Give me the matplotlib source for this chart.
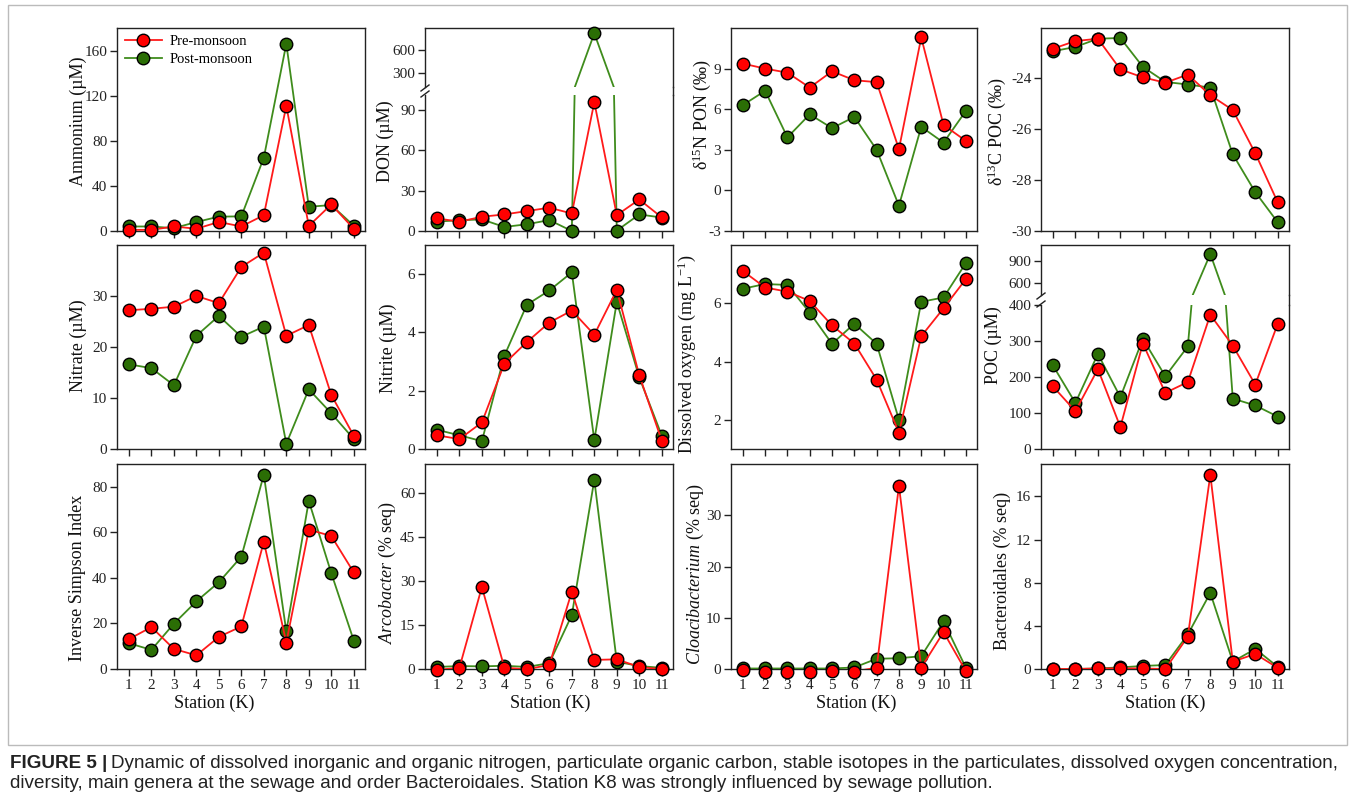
import matplotlib
matplotlib.use("Agg")
import matplotlib.pyplot as plt
from matplotlib.lines import Line2D
from matplotlib.patches import Rectangle

plt.rcParams['font.family'] = ['Liberation Serif', 'DejaVu Serif']
plt.rcParams['mathtext.fontset'] = 'custom'
plt.rcParams['mathtext.rm'] = 'Liberation Serif'
plt.rcParams['mathtext.it'] = 'Liberation Serif:italic'
plt.rcParams['axes.unicode_minus'] = False

stations = list(range(1, 12))
series_names = ["Pre-monsoon", "Post-monsoon"]

ammonium_pre = [1, 1, 4, 2, 8, 4, 14, 111, 4.5, 23.5, 2]
ammonium_post = [4, 4, 2.5, 8, 12.7, 13, 65, 166, 21.5, 23, 4.7]
don_pre = [9.4, 6.9, 10.6, 12.3, 14.8, 17.3, 13, 95.7, 11.8, 23.4, 10.1]
don_post = [7, 8, 8.6, 3, 5, 8.1, 0, 820, 0.3, 12.3, 10]
d15n_pre = [9.37, 9.0, 8.7, 7.6, 8.8, 8.14, 8.0, 3.05, 11.3, 4.83, 3.66]
d15n_post = [6.3, 7.36, 3.92, 5.62, 4.6, 5.43, 3.0, -1.13, 4.7, 3.53, 5.87]
d13c_pre = [-22.87, -22.57, -22.48, -23.68, -23.99, -24.2, -23.88, -24.69, -25.27, -26.96, -28.88]
d13c_post = [-22.97, -22.8, -22.48, -22.45, -23.58, -24.17, -24.27, -24.39, -27.0, -28.48, -29.66]
nitrate_pre = [27.2, 27.5, 27.9, 30, 28.6, 35.7, 38.5, 22.2, 24.3, 10.6, 2.6]
nitrate_post = [16.6, 15.85, 12.5, 22.2, 26.1, 22, 24, 1.04, 11.7, 7.0, 1.96]
nitrite_pre = [0.47, 0.34, 0.91, 2.93, 3.67, 4.34, 4.75, 3.92, 5.46, 2.53, 0.29]
nitrite_post = [0.66, 0.47, 0.27, 3.2, 4.95, 5.44, 6.06, 0.3, 5.05, 2.46, 0.46]
do_pre = [7.11, 6.54, 6.4, 6.08, 5.24, 4.62, 3.38, 1.56, 4.87, 5.83, 6.83]
do_post = [6.5, 6.66, 6.63, 5.68, 4.61, 5.3, 4.61, 2.0, 6.05, 6.2, 7.38]
poc_pre = [174, 105, 222, 61, 293, 156, 186, 373, 287, 179, 348]
poc_post = [232, 128, 264, 144, 306, 202, 285, 990, 140, 121, 90]
invsimpson_pre = [13.1, 18.4, 8.8, 6.0, 14.1, 18.7, 55.9, 11.6, 61.2, 58.4, 42.4]
invsimpson_post = [11.3, 8.4, 19.9, 29.7, 38.1, 49.3, 85.3, 16.5, 73.8, 42.1, 12.5]
arcobacter_pre = [-0.3, 0.4, 28, 0.45, -0.1, 1.4, 26.4, 3.1, 3.3, 0.7, -0.1]
arcobacter_post = [0.7, 1.0, 0.9, 1.1, 0.7, 2.0, 18.4, 64.6, 2.5, 1.0, 0.4]
cloaci_pre = [-0.2, -0.5, -0.65, -0.5, -0.3, -0.5, 0.26, 35.75, 0.26, 7.2, -0.4]
cloaci_post = [0.1, 0.1, 0.1, 0.1, 0.1, 0.3, 2.0, 2.1, 2.5, 9.3, 0.26]
bactero_pre = [0, 0, 0.05, 0.05, 0.05, 0, 3.0, 18.0, 0.68, 1.4, 0.1]
bactero_post = [0, 0, 0.05, 0.15, 0.28, 0.37, 3.2, 7.05, 0.68, 1.86, 0.2]

W, H = 1355, 806
fig = plt.figure(figsize=(W / 100, H / 100), dpi=100)

RED_F, RED_L = '#ff0000', '#ff1a1a'
GRN_F, GRN_L = '#2b6e05', '#3f8c1c'
TICK_FS = 11
LAB_FS = 13


def rect(l, t, r, b):
    return [l / W, 1 - b / H, (r - l) / W, (b - t) / H]


cols = [(117, 365), (425, 673), (731, 977), (1041, 1289)]
rows = [(28, 231), (245, 449), (464, 669)]


def style(ax, bottom_labels, xt=True):
    ax.set_xlim(0.47, 11.5)
    for s in ax.spines.values():
        s.set_color('#222222')
        s.set_linewidth(1.0)
    ax.tick_params(axis='both', direction='out', labelsize=TICK_FS, colors='#222222',
                   length=5, width=1.0, pad=2)
    if xt:
        ax.set_xticks(stations)
        if bottom_labels:
            ax.set_xticklabels([str(s) for s in stations])
        else:
            ax.set_xticklabels([])
    else:
        ax.set_xticks([])


def draw(ax, pre, post):
    ax.plot(stations, post, '-', color=GRN_L, lw=1.3, zorder=3, clip_on=True)
    ax.plot(stations, post, 'o', mfc=GRN_F, mec='black', mew=1.0, ms=9, zorder=4, clip_on=False,
            ls='none')
    ax.plot(stations, pre, '-', color=RED_L, lw=1.3, zorder=5, clip_on=True)
    ax.plot(stations, pre, 'o', mfc=RED_F, mec='black', mew=1.0, ms=9, zorder=6, clip_on=False,
            ls='none')


def draw_broken(top, bot, pre, post):
    for ax in (top, bot):
        lo, hi = ax.get_ylim()
        ax.plot(stations, post, '-', color=GRN_L, lw=1.3, zorder=3)
        ax.plot(stations, pre, '-', color=RED_L, lw=1.3, zorder=5)
        for vals, fc, z in ((post, GRN_F, 4), (pre, RED_F, 6)):
            xs = [s for s, v in zip(stations, vals) if lo <= v <= hi]
            ys = [v for v in vals if lo <= v <= hi]
            ax.plot(xs, ys, 'o', mfc=fc, mec='black', mew=1.0, ms=9, zorder=z, clip_on=False,
                    ls='none')


def ylab(text, x, y):
    fig.text(x / W, 1 - y / H, text, rotation=90, ha='center', va='center', fontsize=LAB_FS,
             color='#111111')


def broken_pair(col, t1, b1, t2, b2, ylim_top, ylim_bot, yt_top, yt_bot, pre, post, bottom_labels):
    l, r = cols[col]
    top = fig.add_axes(rect(l, t1, r, b1))
    bot = fig.add_axes(rect(l, t2, r, b2))
    top.set_ylim(*ylim_top)
    bot.set_ylim(*ylim_bot)
    style(top, False, xt=False)
    style(bot, bottom_labels)
    top.spines['bottom'].set_visible(False)
    bot.spines['top'].set_visible(False)
    top.set_yticks(yt_top)
    bot.set_yticks(yt_bot)
    draw_broken(top, bot, pre, post)
    fig.add_artist(Line2D([r / W, r / W], [1 - b1 / H, 1 - t2 / H], color='#222222', lw=1.0))
    for yy in (b1 + 1, t2 - 1):
        fig.add_artist(Line2D([(l - 4) / W, (l + 4) / W], [1 - (yy + 3) / H, 1 - (yy - 3) / H],
                              color='#222222', lw=1.0))
    return top, bot


# Row 1
ax = fig.add_axes(rect(cols[0][0], rows[0][0], cols[0][1], rows[0][1]))
ax.set_ylim(0, 180)
ax.set_yticks([0, 40, 80, 120, 160])
style(ax, False)
draw(ax, ammonium_pre, ammonium_post)
handles = [Line2D([], [], color=RED_L, lw=1.3, marker='o', mfc=RED_F, mec='black', ms=9),
           Line2D([], [], color=GRN_L, lw=1.3, marker='o', mfc=GRN_F, mec='black', ms=9)]
ax.legend(handles, series_names, loc='upper left', bbox_to_anchor=(-0.005, 1.01), frameon=False,
          fontsize=10.5, handlelength=2.6, handletextpad=0.5, labelspacing=0.35, borderaxespad=0.2)
ylab('Ammonium (µM)', 78, 121)

broken_pair(1, 28, 87, 95, 231, (110, 891), (0, 101), [300, 600], [0, 30, 60, 90],
            don_pre, don_post, False)
ylab('DON (µM)', 385, 141)

ax = fig.add_axes(rect(cols[2][0], rows[0][0], cols[2][1], rows[0][1]))
ax.set_ylim(-3, 12)
ax.set_yticks([-3, 0, 3, 6, 9])
style(ax, False)
draw(ax, d15n_pre, d15n_post)
ylab('δ$^{15}$N PON (‰)', 702, 115)

ax = fig.add_axes(rect(cols[3][0], rows[0][0], cols[3][1], rows[0][1]))
ax.set_ylim(-30, -22.06)
ax.set_yticks([-30, -28, -26, -24])
style(ax, False)
draw(ax, d13c_pre, d13c_post)
ylab('δ$^{13}$C POC (‰)', 997, 132)

# Row 2
ax = fig.add_axes(rect(cols[0][0], rows[1][0], cols[0][1], rows[1][1]))
ax.set_ylim(0, 40)
ax.set_yticks([0, 10, 20, 30])
style(ax, False)
draw(ax, nitrate_pre, nitrate_post)
ylab('Nitrate (µM)', 78, 346)

ax = fig.add_axes(rect(cols[1][0], rows[1][0], cols[1][1], rows[1][1]))
ax.set_ylim(0, 7)
ax.set_yticks([0, 2, 4, 6])
style(ax, False)
draw(ax, nitrite_pre, nitrite_post)
ylab('Nitrite (µM)', 388, 348)

ax = fig.add_axes(rect(cols[2][0], rows[1][0], cols[2][1], rows[1][1]))
ax.set_ylim(1, 8)
ax.set_yticks([2, 4, 6])
style(ax, False)
draw(ax, do_pre, do_post)
ylab('Dissolved oxygen (mg L$^{-1}$)', 687, 354)

broken_pair(3, 245, 295, 305, 449, (439, 1111), (0, 400), [600, 900], [0, 100, 200, 300, 400],
            poc_pre, poc_post, False)
ylab('POC (µM)', 993, 345)

# Row 3
ax = fig.add_axes(rect(cols[0][0], rows[2][0], cols[0][1], rows[2][1]))
ax.set_ylim(0, 90)
ax.set_yticks([0, 20, 40, 60, 80])
style(ax, True)
draw(ax, invsimpson_pre, invsimpson_post)
ylab('Inverse Simpson Index', 78, 578)

ax = fig.add_axes(rect(cols[1][0], rows[2][0], cols[1][1], rows[2][1]))
ax.set_ylim(0, 70)
ax.set_yticks([0, 15, 30, 45, 60])
style(ax, True)
draw(ax, arcobacter_pre, arcobacter_post)
ylab('$\\it{Arcobacter}$ (% seq)', 387, 572)

ax = fig.add_axes(rect(cols[2][0], rows[2][0], cols[2][1], rows[2][1]))
ax.set_ylim(0, 40)
ax.set_yticks([0, 10, 20, 30])
style(ax, True)
draw(ax, cloaci_pre, cloaci_post)
ylab('$\\it{Cloacibacterium}$ (% seq)', 695, 574)

ax = fig.add_axes(rect(cols[3][0], rows[2][0], cols[3][1], rows[2][1]))
ax.set_ylim(0, 19)
ax.set_yticks([0, 4, 8, 12, 16])
style(ax, True)
draw(ax, bactero_pre, bactero_post)
ylab('Bacteroidales (% seq)', 1002, 571)

station_label_x = [214, 550, 856, 1165]
for cx in station_label_x:
    fig.text(cx / W, 1 - 703 / H, 'Station (K)', ha='center', va='center',
             fontsize=LAB_FS, color='#111111')

# outer frame
fig.add_artist(Rectangle((8 / W, 1 - 745 / H), (1347 - 8) / W, (745 - 5) / H, transform=fig.transFigure,
                         fill=False, ec='#bbbbbb', lw=1.0))

cap_font = ['Liberation Sans', 'DejaVu Sans']
CAP_FS = 13.6
t0 = fig.text(10 / W, 1 - 763 / H, 'FIGURE 5 |', family=cap_font, fontweight='bold', fontsize=CAP_FS,
              color='#222222', va='center', ha='left')
fig.canvas.draw()
bb = t0.get_window_extent()
fig.text((bb.x1 + 4) / W, 1 - 763 / H,
         'Dynamic of dissolved inorganic and organic nitrogen, particulate organic carbon, stable isotopes in the particulates, dissolved oxygen concentration,',
         family=cap_font, fontsize=CAP_FS, color='#222222', va='center', ha='left')
fig.text(10 / W, 1 - 784 / H,
         'diversity, main genera at the sewage and order Bacteroidales. Station K8 was strongly influenced by sewage pollution.',
         family=cap_font, fontsize=CAP_FS, color='#222222', va='center', ha='left')

fig.savefig('out.png', dpi=100)
